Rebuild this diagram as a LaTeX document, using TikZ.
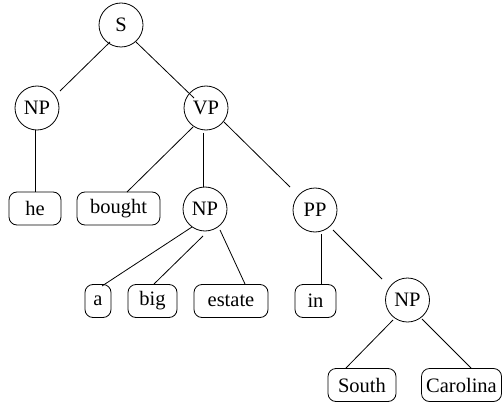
\documentclass[tikz,border=0pt]{standalone}
\usepackage{fontspec}
\setmainfont{Liberation Serif}
\begin{document}
\begin{tikzpicture}[x=1pt,y=-1pt,
  every node/.style={font=\fontsize{20.5}{23}\selectfont, inner sep=0pt},
  cat/.style={draw, circle, line width=0.8pt, minimum size=44pt},
  word/.style={draw, rounded corners=8pt, line width=0.8pt, minimum height=33pt},
  edge/.style={line width=0.8pt}]
\useasboundingbox (0,0) rectangle (502,406);
\node[cat] (S) at (121,25) {S};
\node[cat] (NP1) at (37,108) {NP};
\node[cat] (VP) at (206,108) {VP};
\node[word, minimum width=52pt] (he) at (35,208.5) {he};
\node[word, minimum width=83pt] (bought) at (118.5,208.5) {bought};
\node[cat] (NP2) at (205,209) {NP};
\node[cat] (PP) at (315,210) {PP};
\node[word, minimum width=26pt] (a) at (98,301) {a};
\node[word, minimum width=49pt] (big) at (152.5,301) {big};
\node[word, minimum width=74pt] (estate) at (231,301) {estate};
\node[word, minimum width=41pt] (in) at (315.5,301) {in};
\node[cat] (NP3) at (407.5,300) {NP};
\node[word, minimum width=68pt] (South) at (362,385) {South};
\node[word, minimum width=80pt] (Carolina) at (461.5,385) {Carolina};
\draw[edge] ([shift={(-11,17)}]S.center) -- ([shift={(23,-17)}]NP1.center);
\draw[edge] ([shift={(15,17)}]S.center) -- ([shift={(-12,-10)}]VP.center);
\draw[edge] ([shift={(-2,22)}]NP1.center) -- (he.north);
\draw[edge] ([shift={(-13,19)}]VP.center) -- ([shift={(8.5,-16.5)}]bought.center);
\draw[edge] ([shift={(-3,25)}]VP.center) -- ([shift={(-2,-22)}]NP2.center);
\draw[edge] ([shift={(18,14)}]VP.center) -- ([shift={(-25,-23)}]PP.center);
\draw[edge] ([shift={(-13,18)}]NP2.center) -- ([shift={(4,-15)}]a.center);
\draw[edge] ([shift={(-2,27)}]NP2.center) -- ([shift={(1.5,-17)}]big.center);
\draw[edge] ([shift={(15,21)}]NP2.center) -- ([shift={(14,-17)}]estate.center);
\draw[edge] ([shift={(6,24)}]PP.center) -- ([shift={(5.5,-17)}]in.center);
\draw[edge] ([shift={(18,20)}]PP.center) -- ([shift={(-25.5,-21)}]NP3.center);
\draw[edge] ([shift={(-14.5,20)}]NP3.center) -- ([shift={(-16,-17)}]South.center);
\draw[edge] ([shift={(14.5,19)}]NP3.center) -- ([shift={(9.5,-17)}]Carolina.center);
\end{tikzpicture}
\end{document}
